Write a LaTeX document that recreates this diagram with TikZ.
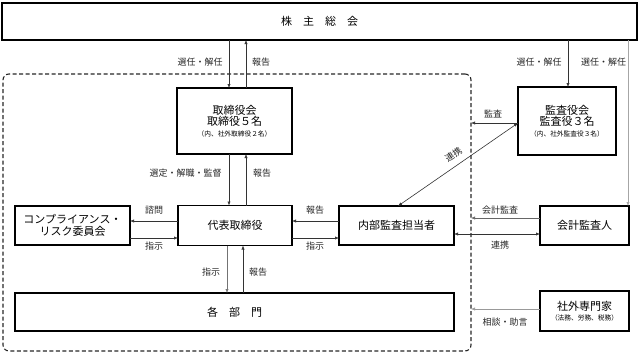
\documentclass[tikz,border=0pt]{standalone}
\usepackage{fontspec}
\setmainfont{Noto Sans CJK JP}
\usetikzlibrary{arrows.meta}
\begin{document}
\begin{tikzpicture}[x=1pt,y=-1pt,
  box/.style={draw=black, line width=1.1pt, fill=white, inner sep=0pt, outer sep=0pt, align=center, font=\fontsize{11}{11.5}\selectfont},
  lbl/.style={font=\fontsize{9}{10}\selectfont, inner sep=0pt, text=black!85},
  arr/.style={line width=0.6pt, draw=black!80, -{Latex[length=4pt,width=3.2pt]}},
  darr/.style={line width=0.6pt, draw=black!80, {Latex[length=4pt,width=3.2pt]}-{Latex[length=4pt,width=3.2pt]}},
  grp/.style={draw=black!85, line width=1.1pt, dash pattern=on 4pt off 2.5pt, rounded corners=6pt, inner sep=0pt, outer sep=0pt}]
\useasboundingbox (0,0) rectangle (640,354);
% group
\node[grp, minimum width=468, minimum height=277] (grp) at (237,212.5) {};
% boxes
\node[box, minimum width=635, minimum height=37] (sh) at (319.5,21.5) {株　主　総　会};
\node[box, minimum width=115, minimum height=66] (tb) at (234.5,121) {取締役会\\取締役５名\\[-1pt]{\fontsize{6.7}{8}\selectfont （内、社外取締役２名）}};
\node[box, minimum width=98, minimum height=68] (ka) at (567,121) {監査役会\\監査役３名\\[-1pt]{\fontsize{6.7}{8}\selectfont （内、社外監査役３名）}};
\node[box, minimum width=115, minimum height=39] (cr) at (72.5,225.5) {コンプライアンス・\\リスク委員会};
\node[box, minimum width=114, minimum height=40] (dh) at (235,225.5) {代表取締役};
\node[box, minimum width=115, minimum height=39] (na) at (396.5,225.5) {内部監査担当者};
\node[box, minimum width=439, minimum height=38] (kb) at (234.5,312) {各　部　門};
\node[box, minimum width=89, minimum height=39] (kk) at (584.5,225.5) {会計監査人};
\node[box, minimum width=89, minimum height=40] (se) at (584.5,311) {社外専門家\\[-1pt]{\fontsize{6.7}{8}\selectfont （法務、労務、税務）}};
% helper coordinates
\coordinate (x229) at (229,0);
\coordinate (x246) at (246,0);
\coordinate (x227) at (227,0);
\coordinate (x243) at (243,0);
\coordinate (x568) at (568,0);
\coordinate (x628) at (628,0);
\coordinate (x398) at (398,0);
\coordinate (y123) at (0,123);
\coordinate (y221) at (0,221);
\coordinate (y238) at (0,238);
\coordinate (y218) at (0,218);
\coordinate (y234) at (0,234);
\coordinate (y309) at (0,309);
% connectors
\draw[arr] (sh.south -| x229) -- (tb.north -| x229);
\draw[arr] (tb.north -| x246) -- (sh.south -| x246);
\draw[arr] (sh.south -| x568) -- (ka.north -| x568);
\draw[arr, draw=black!35] (sh.south -| x628) -- (kk.north -| x628);
\draw[arr] (tb.south -| x229) -- (dh.north -| x229);
\draw[arr] (dh.north -| x246) -- (tb.south -| x246);
\draw[arr] (dh.west |- y221) -- (cr.east |- y221);
\draw[arr] (cr.east |- y238) -- (dh.west |- y238);
\draw[arr] (na.west |- y221) -- (dh.east |- y221);
\draw[arr] (dh.east |- y238) -- (na.west |- y238);
\draw[arr, draw=black!55] (dh.south -| x227) -- (kb.north -| x227);
\draw[arr] (kb.north -| x243) -- (dh.south -| x243);
\draw[arr] (ka.west |- y123) -- (grp.east |- y123);
\draw[darr] (ka.west |- y123) -- (na.north -| x398);
\draw[arr, draw=black!60] (kk.west |- y218) -- (grp.east |- y218);
\draw[darr] (na.east |- y234) -- (kk.west |- y234);
\draw[arr, draw=black!40] (se.west |- y309) -- (grp.east |- y309);
% labels
\node[lbl] at (200,62) {選任・解任};
\node[lbl] at (261,62) {報告};
\node[lbl] at (539,62) {選任・解任};
\node[lbl] at (603.5,62) {選任・解任};
\node[lbl] at (185.5,173) {選定・解職・監督};
\node[lbl] at (262,173) {報告};
\node[lbl] at (154,210) {諮問};
\node[lbl] at (154,246) {指示};
\node[lbl] at (315,210) {報告};
\node[lbl] at (315,246) {指示};
\node[lbl] at (211,272) {指示};
\node[lbl] at (258,272) {報告};
\node[lbl] at (493,114) {監査};
\node[lbl, rotate=34] at (453.5,154.5) {連携};
\node[lbl] at (500,210) {会計監査};
\node[lbl] at (500,245) {連携};
\node[lbl] at (505,322) {相談・助言};
\end{tikzpicture}
\end{document}
